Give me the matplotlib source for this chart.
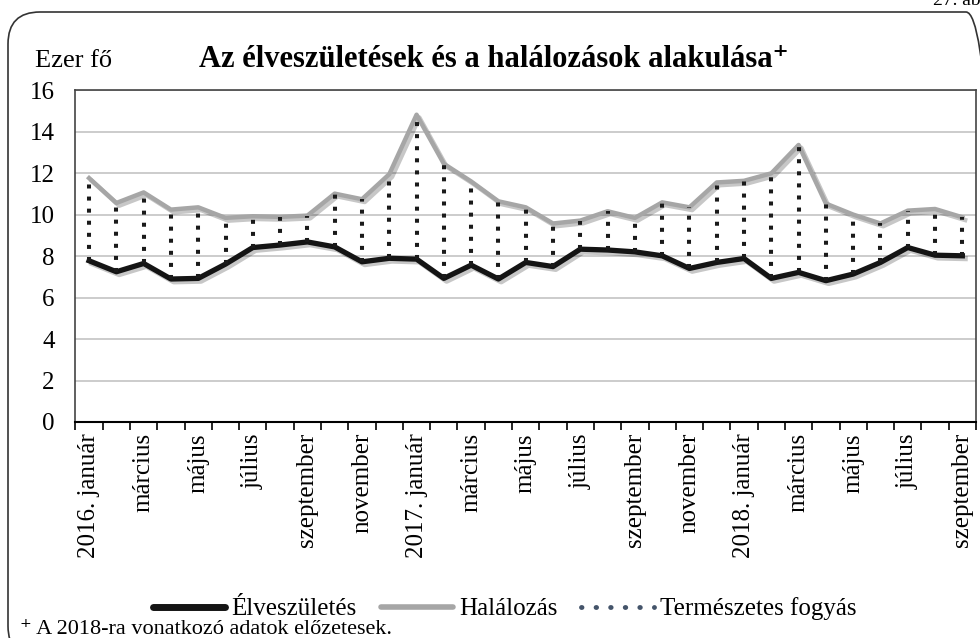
import numpy as np
import matplotlib
matplotlib.use("Agg")
import matplotlib.pyplot as plt
import matplotlib.patheffects as pe
from matplotlib.lines import Line2D
from matplotlib.patches import FancyBboxPatch

plt.rcParams['font.family'] = ['Liberation Serif', 'DejaVu Serif']

# Havi adatok, ezer fő (2016. január - 2018. szeptember)
elveszuletes = [7.78, 7.25, 7.65, 6.90, 6.93, 7.62, 8.42, 8.54, 8.69, 8.45, 7.73,
                7.90, 7.86, 6.93, 7.57, 6.90, 7.70, 7.50, 8.34, 8.30, 8.21, 8.02,
                7.41, 7.70, 7.89, 6.93, 7.22, 6.82, 7.14, 7.70, 8.42, 8.05, 8.02]
halalozas = [11.77, 10.57, 11.08, 10.25, 10.36, 9.85, 9.93, 9.90, 9.96, 11.02, 10.75,
             11.96, 14.83, 12.46, 11.61, 10.65, 10.36, 9.58, 9.72, 10.17, 9.85, 10.60,
             10.36, 11.56, 11.64, 12.00, 13.37, 10.54, 10.01, 9.58, 10.20, 10.28, 9.88]
tick_labels = ["2016. január", "március", "május", "július", "szeptember", "november",
               "2017. január", "március", "május", "július", "szeptember", "november",
               "2018. január", "március", "május", "július", "szeptember"]
y_ticks = [0, 2, 4, 6, 8, 10, 12, 14, 16]

x = np.arange(len(halalozas))

fig = plt.figure(figsize=(9.8, 6.38), dpi=100)
ax = fig.add_axes([0.077, 0.3386, 0.9189, 0.5196])

# keret a teljes ábra körül
frame = FancyBboxPatch((0.08, -0.2), 9.9, 6.46, boxstyle="round,pad=0,rounding_size=0.32",
                       transform=fig.dpi_scale_trans, fill=False, edgecolor='#333333',
                       linewidth=1.2, zorder=0)
fig.patches.append(frame)

shadow = [pe.SimpleLineShadow(offset=(2, -2), shadow_color='k', alpha=0.22), pe.Normal()]

ax.plot(x, halalozas, color='#a6a6a6', linewidth=3.2, zorder=3, path_effects=shadow)
ax.plot(x, elveszuletes, color='#141414', linewidth=3.8, zorder=3, path_effects=shadow)
ax.vlines(x, elveszuletes, halalozas, colors='#1a1a1a', linestyles=(0, (1, 2)),
          linewidth=2.9, zorder=4)

ax.set_xlim(-0.5, len(x) - 0.5)
ax.set_ylim(0, 16)
ax.set_yticks(y_ticks)
ax.yaxis.grid(True, color='#c4c4c4', linewidth=1.2)
ax.set_axisbelow(True)
ax.tick_params(axis='y', length=0, pad=15, labelsize=18)

ax.set_xticks(np.arange(-0.5, len(x), 1))
ax.set_xticklabels([])
ax.set_xticks(x[::2], minor=True)
ax.set_xticklabels(tick_labels, minor=True, rotation=90, fontsize=18)
ax.tick_params(axis='x', which='major', length=6, width=1.2, direction='out')
ax.tick_params(axis='x', which='minor', length=0, pad=8)

for s in ['left', 'top', 'right']:
    ax.spines[s].set_color('#444444')
    ax.spines[s].set_linewidth(1.2)
ax.spines['bottom'].set_color('black')
ax.spines['bottom'].set_linewidth(1.5)

fig.text(35 / 980, 1 - 67 / 638, "Ezer fő", fontsize=19, ha='left', va='baseline')
fig.text(494 / 980, 1 - 67 / 638, "Az élveszületések és a halálozások alakulása⁺",
         fontsize=22, fontweight='bold', ha='center', va='baseline')
fig.text(933 / 980, 1 - 5 / 638, "27. ábra", fontsize=14, ha='left', va='baseline')
fig.text(20 / 980, 1 - 634 / 638, "⁺ A 2018-ra vonatkozó adatok előzetesek.",
         fontsize=16, ha='left', va='baseline')

handles = [
    Line2D([], [], color='#141414', linewidth=5, solid_capstyle='round'),
    Line2D([], [], color='#a6a6a6', linewidth=4, solid_capstyle='round'),
    Line2D([], [], color='#44546a', linewidth=3.5, linestyle=(0, (0.1, 2.9)),
           dash_capstyle='round'),
]
fig.legend(handles, ["Élveszületés", "Halálozás", "Természetes fogyás"],
           loc='center', bbox_to_anchor=(0.515, 1 - 609 / 638), ncol=3, frameon=False,
           fontsize=18, handlelength=2.9, handletextpad=0.25, columnspacing=0.95,
           borderpad=0, borderaxespad=0)

fig.savefig("out.png", dpi=100)
